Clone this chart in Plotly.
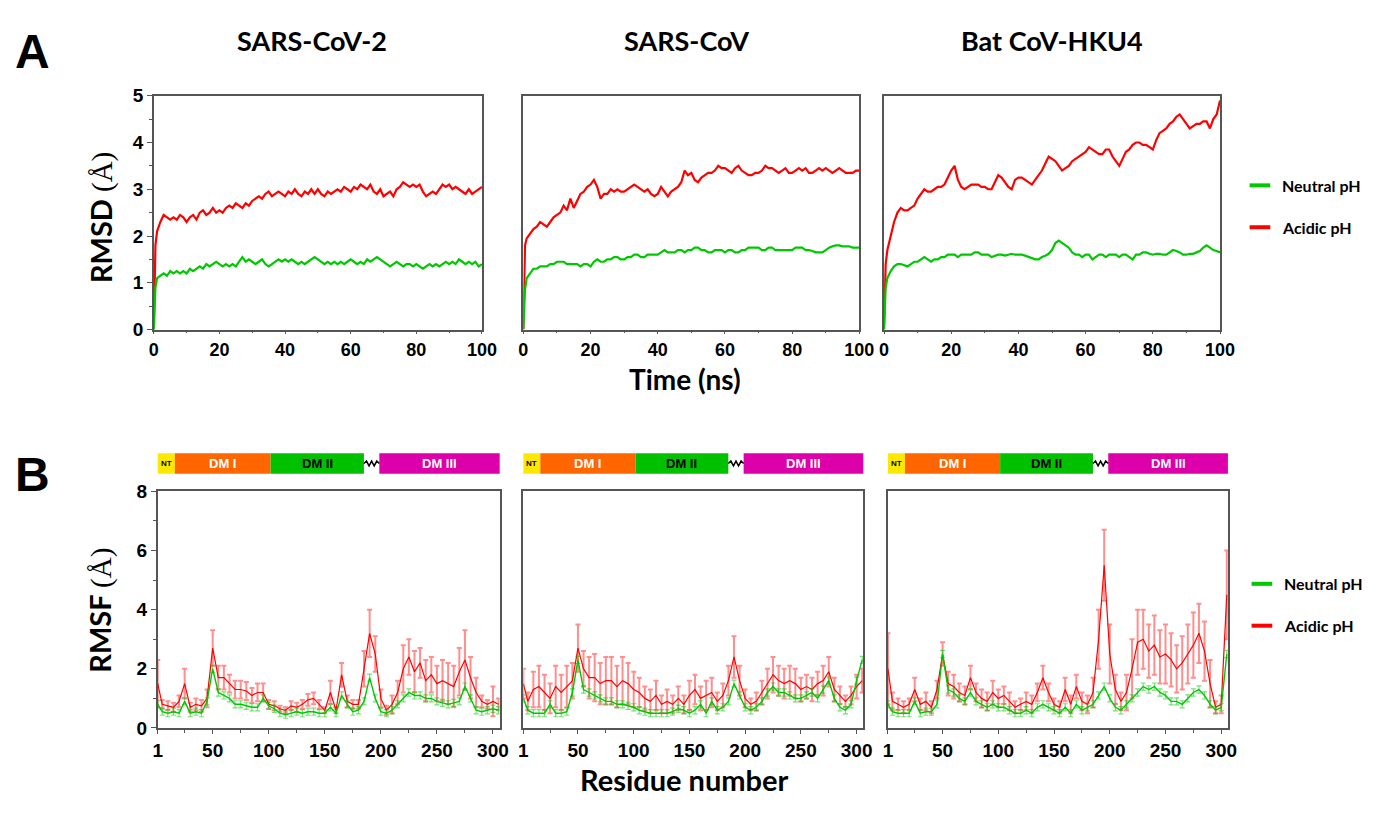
import plotly.graph_objects as go

# ---------------- DATA ----------------
panel_titles = ["SARS-CoV-2", "SARS-CoV", "Bat CoV-HKU4"]
series_names = ["Neutral pH", "Acidic pH"]

time_ns = [0, 0.5] + list(range(1, 101))

rmsd_neutral_cov2 = [0.0, 0.9,
    1.1, 1.15, 1.2, 1.15, 1.25, 1.2, 1.25, 1.2, 1.25, 1.2,
    1.3, 1.25, 1.3, 1.35, 1.3, 1.4, 1.35, 1.4, 1.45, 1.4,
    1.35, 1.4, 1.35, 1.4, 1.35, 1.45, 1.55, 1.45, 1.5, 1.45,
    1.4, 1.45, 1.5, 1.4, 1.35, 1.4, 1.45, 1.5, 1.45, 1.5,
    1.45, 1.5, 1.45, 1.4, 1.45, 1.4, 1.45, 1.5, 1.55, 1.5,
    1.45, 1.4, 1.45, 1.4, 1.45, 1.4, 1.45, 1.4, 1.45, 1.5,
    1.45, 1.4, 1.45, 1.4, 1.5, 1.45, 1.5, 1.55, 1.5, 1.45,
    1.4, 1.35, 1.4, 1.45, 1.4, 1.35, 1.4, 1.4, 1.35, 1.4,
    1.35, 1.3, 1.35, 1.4, 1.35, 1.4, 1.35, 1.4, 1.45, 1.4,
    1.45, 1.4, 1.5, 1.45, 1.4, 1.45, 1.4, 1.45, 1.35, 1.4]
rmsd_acidic_cov2 = [0.0, 1.8,
    2.1, 2.3, 2.45, 2.4, 2.35, 2.4, 2.35, 2.45, 2.4, 2.3,
    2.4, 2.45, 2.35, 2.5, 2.55, 2.45, 2.5, 2.6, 2.5, 2.55,
    2.5, 2.6, 2.65, 2.6, 2.7, 2.65, 2.6, 2.7, 2.65, 2.75,
    2.8, 2.85, 2.8, 2.9, 2.95, 2.85, 2.9, 2.95, 2.9, 2.85,
    2.95, 2.9, 3.0, 2.9, 2.85, 2.95, 2.9, 3.0, 2.9, 3.0,
    2.9, 2.85, 2.95, 2.9, 2.95, 3.0, 2.95, 3.05, 3.0, 2.95,
    3.05, 3.0, 3.1, 3.05, 3.0, 3.1, 2.95, 2.9, 3.0, 2.85,
    2.9, 2.95, 2.85, 3.0, 3.05, 3.15, 3.1, 3.05, 3.1, 3.05,
    3.1, 2.95, 2.85, 2.9, 2.95, 2.9, 3.0, 3.1, 3.05, 3.1,
    3.0, 3.05, 3.0, 2.95, 2.9, 3.0, 2.9, 2.95, 3.0, 3.05]

rmsd_neutral_cov = [0.0, 0.85,
    1.1, 1.2, 1.3, 1.3, 1.35, 1.35, 1.35, 1.4, 1.4, 1.45,
    1.45, 1.45, 1.4, 1.4, 1.4, 1.4, 1.35, 1.4, 1.4, 1.35,
    1.45, 1.5, 1.45, 1.45, 1.5, 1.5, 1.55, 1.55, 1.5, 1.5,
    1.55, 1.55, 1.6, 1.6, 1.55, 1.55, 1.6, 1.6, 1.6, 1.6,
    1.65, 1.7, 1.65, 1.65, 1.65, 1.7, 1.7, 1.65, 1.7, 1.7,
    1.75, 1.75, 1.7, 1.7, 1.65, 1.65, 1.7, 1.7, 1.7, 1.65,
    1.7, 1.7, 1.65, 1.65, 1.7, 1.7, 1.75, 1.75, 1.75, 1.75,
    1.7, 1.7, 1.75, 1.75, 1.7, 1.7, 1.7, 1.7, 1.7, 1.7,
    1.75, 1.75, 1.75, 1.7, 1.7, 1.68, 1.65, 1.65, 1.65, 1.7,
    1.75, 1.78, 1.8, 1.8, 1.78, 1.78, 1.78, 1.75, 1.75, 1.75]
rmsd_acidic_cov = [0.0, 1.8,
    1.95, 2.05, 2.15, 2.2, 2.3, 2.25, 2.2, 2.3, 2.4, 2.45,
    2.5, 2.65, 2.55, 2.8, 2.6, 2.75, 2.9, 2.95, 3.05, 3.1,
    3.2, 3.05, 2.8, 2.9, 2.9, 3.0, 2.95, 3.0, 2.95, 2.95,
    3.0, 3.05, 3.1, 3.05, 3.0, 2.95, 3.0, 2.9, 2.85, 2.9,
    3.05, 2.95, 2.85, 2.95, 3.0, 3.05, 3.15, 3.4, 3.3, 3.35,
    3.2, 3.15, 3.25, 3.3, 3.35, 3.35, 3.4, 3.5, 3.45, 3.45,
    3.4, 3.35, 3.45, 3.5, 3.4, 3.35, 3.3, 3.3, 3.35, 3.35,
    3.4, 3.5, 3.45, 3.45, 3.4, 3.35, 3.4, 3.45, 3.35, 3.35,
    3.4, 3.45, 3.4, 3.45, 3.35, 3.35, 3.4, 3.45, 3.4, 3.45,
    3.4, 3.35, 3.4, 3.45, 3.4, 3.35, 3.35, 3.35, 3.4, 3.4]

rmsd_neutral_hku4 = [0.0, 0.9,
    1.1, 1.25, 1.35, 1.4, 1.4, 1.38, 1.35, 1.4, 1.45, 1.45,
    1.5, 1.55, 1.5, 1.45, 1.5, 1.5, 1.55, 1.55, 1.6, 1.6,
    1.6, 1.55, 1.6, 1.6, 1.6, 1.6, 1.65, 1.65, 1.6, 1.6,
    1.6, 1.55, 1.58, 1.6, 1.6, 1.58, 1.6, 1.62, 1.6, 1.6,
    1.6, 1.58, 1.55, 1.52, 1.5, 1.5, 1.55, 1.58, 1.62, 1.7,
    1.85, 1.9, 1.85, 1.8, 1.75, 1.65, 1.6, 1.6, 1.55, 1.6,
    1.6, 1.5, 1.55, 1.6, 1.6, 1.55, 1.6, 1.6, 1.6, 1.55,
    1.6, 1.6, 1.55, 1.5, 1.6, 1.6, 1.65, 1.65, 1.62, 1.6,
    1.62, 1.62, 1.6, 1.6, 1.65, 1.7, 1.68, 1.65, 1.6, 1.6,
    1.62, 1.62, 1.65, 1.68, 1.75, 1.8, 1.75, 1.7, 1.68, 1.65]
rmsd_acidic_hku4 = [0.0, 1.4,
    1.7, 2.0, 2.3, 2.5, 2.6, 2.55, 2.55, 2.6, 2.65, 2.8,
    2.9, 3.0, 2.95, 2.95, 3.0, 3.05, 3.05, 3.1, 3.25, 3.4,
    3.5, 3.2, 3.05, 3.0, 3.05, 3.1, 3.1, 3.1, 3.05, 3.05,
    3.0, 3.0, 3.15, 3.3, 3.25, 3.15, 3.05, 3.0, 3.2, 3.25,
    3.25, 3.2, 3.15, 3.1, 3.2, 3.3, 3.4, 3.55, 3.7, 3.65,
    3.6, 3.5, 3.4, 3.45, 3.5, 3.6, 3.65, 3.7, 3.75, 3.8,
    3.9, 3.85, 3.8, 3.75, 3.75, 3.85, 3.85, 3.7, 3.6, 3.5,
    3.65, 3.8, 3.85, 3.95, 4.0, 4.0, 3.95, 3.95, 3.9, 3.85,
    4.05, 4.2, 4.25, 4.3, 4.4, 4.45, 4.55, 4.6, 4.5, 4.4,
    4.3, 4.35, 4.4, 4.4, 4.45, 4.45, 4.3, 4.5, 4.6, 4.9]

residues = [1] + list(range(5, 306, 5))

rmsf_neutral_cov2 = [0.8, 0.55, 0.5, 0.55, 0.5, 0.9, 0.5, 0.55, 0.5, 0.9,
    2.0, 1.2, 1.1, 1.0, 0.8, 0.8, 0.75, 0.7, 0.7, 1.0,
    0.75, 0.65, 0.5, 0.45, 0.5, 0.55, 0.5, 0.55, 0.55, 0.5,
    0.5, 0.7, 0.5, 1.1, 0.8, 0.55, 0.6, 0.9, 1.7, 1.0,
    0.55, 0.5, 0.6, 0.8, 1.0, 1.2, 1.1, 1.1, 1.0, 1.0,
    0.9, 0.85, 0.8, 0.85, 0.9, 1.4, 1.0, 0.6, 0.55, 0.6,
    0.65, 0.6]
rmsf_acidic_cov2 = [1.5, 0.8, 0.75, 0.7, 0.9, 1.5, 0.7, 0.8, 0.75, 1.0,
    2.7, 1.7, 1.7, 1.5, 1.3, 1.3, 1.25, 1.1, 1.2, 1.2,
    0.8, 0.75, 0.65, 0.6, 0.75, 0.7, 0.8, 0.95, 1.0, 0.8,
    0.6, 1.2, 0.6, 1.8, 0.9, 0.8, 0.8, 2.0, 3.2, 2.5,
    1.0, 0.6, 0.8, 1.2, 2.0, 2.4, 1.9, 2.2, 1.6, 1.8,
    1.5, 1.6, 1.5, 1.4, 1.9, 2.3, 1.7, 1.2, 0.9, 0.8,
    0.9, 0.8]
rmsf_acidic_err_cov2 = [0.8, 0.15, 0.15, 0.15, 0.2, 0.5, 0.15, 0.2, 0.2, 0.3,
    0.6, 0.4, 0.4, 0.3, 0.3, 0.3, 0.3, 0.25, 0.3, 0.3,
    0.15, 0.15, 0.1, 0.1, 0.15, 0.15, 0.15, 0.2, 0.2, 0.15,
    0.1, 0.4, 0.1, 0.4, 0.2, 0.15, 0.15, 0.6, 0.8, 0.6,
    0.3, 0.15, 0.3, 0.4, 0.8, 0.6, 0.7, 0.5, 0.7, 0.6,
    0.6, 0.7, 0.7, 0.7, 0.8, 1.0, 0.7, 0.5, 0.2, 0.15,
    0.5, 0.2]

rmsf_neutral_cov = [1.0, 0.6, 0.5, 0.5, 0.5, 0.8, 0.5, 0.5, 0.55, 1.2,
    2.3, 1.3, 1.2, 1.1, 1.0, 0.9, 0.9, 0.8, 0.8, 0.75,
    0.7, 0.6, 0.55, 0.5, 0.5, 0.5, 0.5, 0.55, 0.65, 0.6,
    0.5, 0.6, 0.8, 0.5, 0.9, 0.6, 0.7, 0.9, 1.5, 1.1,
    0.7, 0.6, 0.7, 0.9, 1.2, 1.4, 1.2, 1.2, 1.1, 1.0,
    1.0, 1.1, 1.2, 1.0, 1.3, 1.6, 1.0, 0.7, 0.6, 0.8,
    1.6, 2.3]
rmsf_acidic_cov = [1.5, 0.9, 1.3, 1.4, 1.2, 1.0, 1.4, 1.2, 1.4, 1.6,
    2.7, 2.0, 1.7, 1.7, 1.5, 1.6, 1.6, 1.4, 1.6, 1.5,
    1.3, 1.2, 1.0, 0.9, 1.1, 0.8, 0.9, 0.8, 1.0, 0.8,
    1.1, 1.3, 1.0, 1.1, 1.2, 0.9, 1.1, 1.6, 2.4, 1.6,
    1.0, 0.8, 0.9, 1.2, 1.5, 1.8, 1.6, 1.5, 1.6, 1.5,
    1.3, 1.4, 1.3, 1.5, 1.6, 1.9, 1.3, 1.1, 0.9, 1.1,
    1.4, 1.6]
rmsf_acidic_err_cov = [0.5, 0.3, 0.6, 0.7, 0.6, 0.5, 0.7, 0.6, 0.7, 0.6,
    0.8, 0.6, 0.7, 0.8, 0.7, 0.8, 0.8, 0.7, 0.8, 0.7,
    0.6, 0.5, 0.4, 0.4, 0.5, 0.3, 0.4, 0.3, 0.4, 0.3,
    0.5, 0.5, 0.4, 0.5, 0.5, 0.3, 0.4, 0.5, 0.7, 0.5,
    0.3, 0.2, 0.3, 0.4, 0.5, 0.6, 0.5, 0.5, 0.5, 0.5,
    0.4, 0.4, 0.4, 0.4, 0.5, 0.5, 0.4, 0.3, 0.2, 0.3,
    0.4, 0.4]

rmsf_neutral_hku4 = [0.8, 0.55, 0.5, 0.5, 0.5, 0.9, 0.5, 0.55, 0.55, 0.8,
    2.5, 1.3, 1.2, 1.0, 0.9, 1.2, 0.9, 0.8, 0.7, 0.8,
    0.7, 0.7, 0.6, 0.5, 0.5, 0.6, 0.5, 0.7, 0.8, 0.7,
    0.6, 0.5, 0.7, 0.5, 0.8, 0.6, 0.7, 0.8, 1.1, 1.4,
    1.0, 0.7, 0.6, 0.8, 1.0, 1.2, 1.4, 1.3, 1.4, 1.2,
    1.1, 0.9, 0.9, 0.8, 1.0, 1.2, 1.3, 1.1, 0.8, 0.6,
    0.7, 2.5]
rmsf_acidic_hku4 = [2.0, 0.9, 0.8, 0.7, 0.8, 1.3, 0.8, 0.9, 0.7, 1.3,
    2.5, 1.5, 1.4, 1.2, 1.1, 1.7, 1.2, 1.0, 0.9, 1.2,
    1.0, 1.1, 0.9, 0.7, 0.8, 0.9, 0.8, 1.2, 1.7, 1.2,
    0.8, 0.7, 1.3, 0.8, 1.4, 0.9, 0.8, 1.2, 3.0, 5.5,
    2.5, 1.3, 0.9, 1.2, 2.0, 2.9, 3.0, 2.6, 2.8, 2.4,
    2.5, 2.3, 2.0, 2.2, 2.5, 2.8, 3.2, 2.6, 1.5, 0.7,
    0.8, 4.5]
rmsf_acidic_err_hku4 = [1.2, 0.3, 0.2, 0.2, 0.2, 0.4, 0.2, 0.3, 0.2, 0.3,
    0.4, 0.4, 0.4, 0.3, 0.3, 0.4, 0.3, 0.3, 0.3, 0.4,
    0.3, 0.3, 0.3, 0.2, 0.2, 0.3, 0.3, 0.3, 0.4, 0.3,
    0.2, 0.2, 0.4, 0.3, 0.4, 0.3, 0.3, 0.5, 1.0, 1.2,
    1.0, 0.5, 0.3, 0.6, 1.0, 1.1, 1.0, 0.9, 1.0, 0.9,
    1.0, 0.9, 0.8, 0.9, 1.0, 1.1, 1.0, 1.0, 0.8, 0.2,
    0.3, 1.5]
rmsf_neutral_err = [0.12, 0.12, 0.12]

rmsd_x_ticks = [0, 20, 40, 60, 80, 100]
rmsd_y_ticks = [0, 1, 2, 3, 4, 5]
rmsf_x_ticks = [1, 50, 100, 150, 200, 250, 300]
rmsf_y_ticks = [0, 2, 4, 6, 8]
domain_labels = ["NT", "DM I", "DM II", "DM III"]

# ---------------- STYLE / LAYOUT ----------------
W, H = 1373, 814
GREEN = "#00C800"
RED = "#FF0000"
AXC = "#555555"

def fx(p):
    return p / W

def fy(p):
    return 1 - p / H

top_x = [(151, 484), (526, 867), (892, 1233)]
top_y = (88, 328)
bot_x = [(155, 502), (526, 871), (896, 1241)]
bot_y = (494, 737)

rmsd_data = [(rmsd_neutral_cov2, rmsd_acidic_cov2),
             (rmsd_neutral_cov, rmsd_acidic_cov),
             (rmsd_neutral_hku4, rmsd_acidic_hku4)]
rmsf_data = [(rmsf_neutral_cov2, rmsf_acidic_cov2, rmsf_acidic_err_cov2),
             (rmsf_neutral_cov, rmsf_acidic_cov, rmsf_acidic_err_cov),
             (rmsf_neutral_hku4, rmsf_acidic_hku4, rmsf_acidic_err_hku4)]

fig = go.Figure()
layout = {}
tickfont = dict(family="Liberation Sans, Arial", size=19, color="black", weight="bold")
tickfont_top = dict(family="Liberation Sans, Arial", size=18, color="black", weight="bold")

def axname(i):
    return "xaxis" if i == 1 else f"xaxis{i}"

def yname(i):
    return "yaxis" if i == 1 else f"yaxis{i}"

# RMSD panels (axes 1..3)
for k in range(3):
    i = k + 1
    xs = "x" if i == 1 else f"x{i}"
    ys = "y" if i == 1 else f"y{i}"
    neu, aci = rmsd_data[k]
    fig.add_trace(go.Scatter(x=time_ns, y=aci, mode="lines", line=dict(color=RED, width=2.2),
                             xaxis=xs, yaxis=ys, showlegend=False, name=series_names[1]))
    fig.add_trace(go.Scatter(x=time_ns, y=neu, mode="lines", line=dict(color=GREEN, width=2.2),
                             xaxis=xs, yaxis=ys, showlegend=False, name=series_names[0]))
    layout[axname(i)] = dict(domain=[fx(top_x[k][0]), fx(top_x[k][1])], anchor=ys, range=[0, 100],
                             tickvals=rmsd_x_ticks, ticks="outside", ticklen=3, tickwidth=1.2,
                             tickcolor=AXC, showline=True, linecolor=AXC, linewidth=1.5, mirror=True,
                             showgrid=False, zeroline=False, tickfont=tickfont_top,
                             minor=dict(tickvals=[10, 30, 50, 70, 90], ticks="outside", ticklen=2,
                                        tickcolor=AXC))
    ydict = dict(domain=[fy(top_y[1]), fy(top_y[0])], anchor=xs, range=[0, 5],
                 showline=True, linecolor=AXC, linewidth=1.5, mirror=True, showgrid=False,
                 zeroline=False)
    if k == 0:
        ydict.update(tickvals=rmsd_y_ticks, ticks="outside", ticklen=5, tickwidth=1.2, tickcolor=AXC,
                     tickfont=tickfont,
                     minor=dict(tickvals=[0.5, 1.5, 2.5, 3.5, 4.5], ticks="outside", ticklen=3,
                                tickcolor=AXC))
    else:
        ydict.update(showticklabels=False, ticks="")
    layout[yname(i)] = ydict

# RMSF panels (axes 4..6)
for k in range(3):
    i = k + 4
    xs, ys = f"x{i}", f"y{i}"
    neu, aci, err = rmsf_data[k]
    fig.add_trace(go.Scatter(x=residues, y=aci, mode="lines", line=dict(color=RED, width=1.2),
                             error_y=dict(type="data", array=err, visible=True,
                                          color="rgba(255,50,50,0.55)", thickness=2, width=2.5),
                             xaxis=xs, yaxis=ys, showlegend=False, name=series_names[1]))
    fig.add_trace(go.Scatter(x=residues, y=neu, mode="lines", line=dict(color=GREEN, width=1.4),
                             error_y=dict(type="constant", value=rmsf_neutral_err[k], visible=True,
                                          color="rgba(0,200,0,0.55)", thickness=1.2, width=2.5),
                             xaxis=xs, yaxis=ys, showlegend=False, name=series_names[0]))
    layout[axname(i)] = dict(domain=[fx(bot_x[k][0]), fx(bot_x[k][1])], anchor=ys, range=[1, 306],
                             tickvals=rmsf_x_ticks, ticks="outside", ticklen=4, tickwidth=1.2,
                             tickcolor=AXC, showline=True, linecolor=AXC, linewidth=1.5, mirror=True,
                             showgrid=False, zeroline=False, tickfont=tickfont,
                             minor=dict(tickvals=[25, 75, 125, 175, 225, 275], ticks="outside",
                                        ticklen=3, tickcolor=AXC))
    ydict = dict(domain=[fy(bot_y[1]), fy(bot_y[0])], anchor=xs, range=[0, 8],
                 showline=True, linecolor=AXC, linewidth=1.5, mirror=True, showgrid=False,
                 zeroline=False)
    if k == 0:
        ydict.update(tickvals=rmsf_y_ticks, ticks="outside", ticklen=5, tickwidth=1.2, tickcolor=AXC,
                     tickfont=tickfont,
                     minor=dict(tickvals=[1, 3, 5, 7], ticks="outside", ticklen=3, tickcolor=AXC))
    else:
        ydict.update(showticklabels=False, ticks="")
    layout[yname(i)] = ydict

shapes = []
annotations = []
hfont = "Lato, Open Sans, sans-serif"

def ann(x, y, text, font, **kw):
    d = dict(x=fx(x), y=fy(y), xref="paper", yref="paper", text=text, showarrow=False,
             xanchor="center", yanchor="middle", font=font)
    d.update(kw)
    annotations.append(d)

# Panel titles
title_cx = [312, 692, 1062]
for k, t in enumerate(panel_titles):
    ann(title_cx[k], 31, t, dict(family=hfont, size=27, color="black", weight="bold"))

# Panel letters
ann(28, 43, "A", dict(family="Liberation Sans, Arial", size=48, color="black", weight="bold"))
ann(28, 477, "B", dict(family="Liberation Sans, Arial", size=48, color="black", weight="bold"))

# Axis titles
ann(690, 379, "Time (ns)", dict(family=hfont, size=28, color="black", weight="bold"))
ann(690, 790, "Residue number", dict(family=hfont, size=29, color="black", weight="bold"))
ylab = "RMSD <span style='font-family:Liberation Serif;font-weight:normal'>(Å)</span>"
ann(97, 213, ylab, dict(family=hfont, size=29, color="black", weight="bold"), textangle=-90)
ylab2 = "RMSF <span style='font-family:Liberation Serif;font-weight:normal'>(Å)</span>"
ann(97, 616, ylab2, dict(family=hfont, size=29, color="black", weight="bold"), textangle=-90)

# Legends (drawn)
for (ly1, ly2, lx0, tx) in [(180, 223, 1263, 1294), (589, 632, 1265, 1296)]:
    for ly, col, name in [(ly1, GREEN, series_names[0]), (ly2, RED, series_names[1])]:
        shapes.append(dict(type="line", xref="paper", yref="paper", x0=fx(lx0), x1=fx(lx0 + 21),
                           y0=fy(ly), y1=fy(ly), line=dict(color=col, width=4)))
        ann(tx, ly, name, dict(family=hfont, size=16, color="black", weight="bold"), xanchor="left")

# Domain bars above RMSF panels
seg_frac = [(0.0, 0.05), (0.05, 0.33), (0.33, 0.603), (0.648, 1.0)]
seg_col = ["#FFE800", "#FF6600", "#00C000", "#DD00AA"]
seg_txt_col = ["black", "white", "black", "white"]
seg_size = [8, 13, 13, 13]
bar_top, bar_bot = 455, 476
for k in range(3):
    x0p, x1p = bot_x[k]
    w = x1p - x0p
    for j, (a, b) in enumerate(seg_frac):
        sx0, sx1 = x0p + a * w, x0p + b * w
        shapes.append(dict(type="rect", xref="paper", yref="paper", x0=fx(sx0), x1=fx(sx1),
                           y0=fy(bar_bot), y1=fy(bar_top), fillcolor=seg_col[j], line=dict(width=0)))
        ann((sx0 + sx1) / 2, (bar_top + bar_bot) / 2, domain_labels[j],
            dict(family="Liberation Sans, Arial", size=seg_size[j], color=seg_txt_col[j],
                 weight="bold"))
    # squiggle linker
    sx0 = x0p + seg_frac[2][1] * w
    sx1 = x0p + seg_frac[3][0] * w
    yc = (bar_top + bar_bot) / 2
    n = 6
    pts = []
    for m in range(n + 1):
        xx = sx0 + (sx1 - sx0) * m / n
        dy = 0 if m in (0, n) else (-2.5 if m % 2 else 2.5)
        pts.append((fx(xx), fy(yc + dy)))
    path = "M " + " L ".join(f"{p[0]:.5f},{p[1]:.5f}" for p in pts)
    shapes.append(dict(type="path", xref="paper", yref="paper", path=path,
                       line=dict(color="black", width=1.5)))

layout.update(dict(width=W, height=H, autosize=False, margin=dict(l=0, r=0, t=0, b=0),
                   paper_bgcolor="white", plot_bgcolor="white", showlegend=False,
                   shapes=shapes, annotations=annotations))
fig.update_layout(**layout)

page_fix = ("document.body.style.margin='0px';"
            "document.body.style.overflow='hidden';"
            "var gd=document.getElementById('{plot_id}');"
            "gd.style.position='fixed';gd.style.left='0px';gd.style.top='0px';")
fig.write_html("out.html", config={"displayModeBar": False}, post_script=page_fix)
